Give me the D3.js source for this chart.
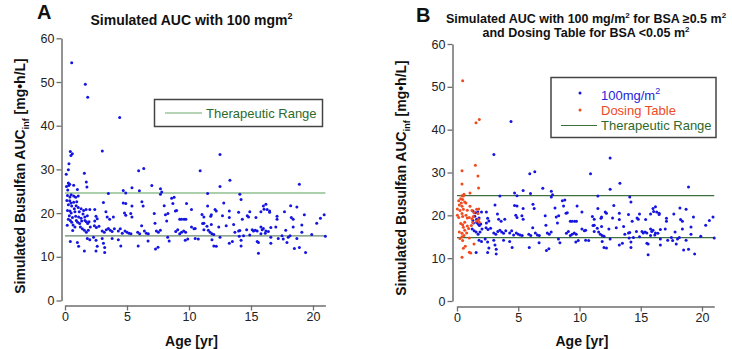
<!DOCTYPE html>
<html><head><meta charset="utf-8">
<script src="https://cdn.jsdelivr.net/npm/d3@7"></script>
<style>body{margin:0;background:#fff} svg{display:block;font-family:"Liberation Sans",Arial,Helvetica,sans-serif}</style>
</head><body><svg id="c" width="732" height="349"></svg>
<script>
// ---- data ----
const xTicks = [0, 5, 10, 15, 20];
const yTicks = [0, 10, 20, 30, 40, 50, 60];
const therapeuticRange = [14.8, 24.6];

// simulated AUC with 100 mg/m2 (age [yr], AUC [mg*h/L])
const ageA = [
 0.54,1.64,1.83,4.41,3.01,0.43,0.59,0.48,0.32,0.27,
 0.1,1.56,5.94,6.35,10.9,1.72,0.27,0.38,0.7,1.77,
 7.0,5.4,7.7,0.12,0.3,12.5,13.3,12.5,18.9,1.0,
 4.7,4.9,6.0,7.8,7.7,3.5,11.5,14.1,14.2,0.2,
 0.4,0.5,0.7,0.86,1.07,0.38,0.48,0.7,0.27,0.54,
 0.9,1.07,3.1,4.7,4.9,6.2,6.3,8.0,8.6,8.8,
 8.7,9.8,11.5,5.4,1.3,1.5,1.7,2.0,2.4,0.2,
 0.4,0.5,0.8,0.86,1.1,1.3,1.6,1.8,4.8,4.9,
 5.3,5.4,3.3,3.4,3.6,3.9,2.5,2.6,2.4,7.2,
 8.3,8.1,8.2,8.9,9.0,10.2,11.8,9.25,9.4,9.6,
 9.75,11.2,0.27,0.43,0.54,0.65,0.8,0.91,1.02,1.18,
 1.34,1.61,1.72,1.83,1.94,1.24,1.4,1.56,1.72,1.88,
 2.04,2.37,2.53,2.74,3.0,3.17,3.33,3.5,3.65,3.8,
 3.98,4.3,4.46,4.62,4.84,5.0,5.16,5.32,5.86,6.02,
 6.18,6.4,6.56,6.72,7.26,7.37,7.53,7.69,8.28,8.93,
 9.09,9.25,9.4,9.57,9.73,10.2,10.4,10.5,11.2,11.45,
 11.56,11.7,0.43,1.0,1.1,1.56,1.8,2.0,2.3,2.5,
 2.6,2.5,3.0,3.1,3.2,3.2,3.8,4.3,4.5,5.9,
 6.7,7.3,7.5,8.4,9.7,9.9,10.5,10.75,12.0,12.8,
 12.1,12.2,13.25,11.05,11.75,12.7,14.0,13.25,14.9,14.7,
 14.8,14.3,15.4,15.8,16.0,16.2,16.05,16.3,16.5,16.5,
 17.1,17.1,17.7,18.2,18.7,18.25,18.4,19.3,20.3,20.6,
 20.9,11.1,11.2,11.8,11.85,12.0,12.4,13.0,13.6,13.7,
 14.0,14.1,14.05,14.2,14.2,12.5,11.85,12.2,13.25,13.5,
 14.4,14.65,14.9,15.1,15.2,15.35,15.5,15.5,15.6,15.6,
 15.8,15.8,15.9,16.0,16.15,16.2,16.4,16.6,16.6,16.6,
 17.0,17.2,17.5,17.6,17.8,17.9,18.0,18.15,18.4,18.7,
 18.5,18.9,19.1,19.1,19.4,19.9,21.0,
 0.15,0.22,0.35,0.6,0.75,0.95,1.15,1.45,0.18,0.62
];
const aucA = [
 54.4,49.5,46.5,41.9,34.2,34.1,33.6,33.2,31.3,29.9,
 28.9,29.1,29.7,30.2,29.7,27.1,26.9,26.6,26.4,26.0,
 26.3,25.8,25.6,26.1,26.3,33.4,27.5,26.1,26.6,25.4,
 25.2,24.6,25.1,24.8,24.3,24.5,24.5,24.3,23.1,24.0,
 23.7,24.2,23.9,23.6,23.9,22.8,22.3,22.5,21.9,21.6,
 21.7,21.3,22.4,22.3,22.2,22.6,21.6,21.7,23.4,23.6,
 22.2,22.2,21.6,21.6,21.0,20.6,20.8,20.8,20.8,20.6,
 20.5,20.0,20.3,19.3,19.1,18.8,19.1,19.4,20.0,19.5,
 19.9,19.1,20.3,19.1,18.6,19.1,19.3,18.7,18.2,19.9,
 19.9,19.6,18.2,20.5,20.6,20.8,19.6,18.6,18.6,18.6,
 18.6,19.1,18.6,18.3,17.9,17.3,16.8,18.3,17.9,17.6,
 18.2,18.3,18.0,17.6,18.0,16.8,16.4,16.1,15.6,16.1,
 16.8,17.1,16.7,17.0,15.9,15.6,16.2,16.5,16.1,15.8,
 16.4,15.9,16.4,15.4,15.9,15.6,15.4,15.3,15.6,15.3,
 17.1,15.9,15.4,15.3,17.7,15.9,15.6,16.1,14.5,15.8,
 16.2,15.3,15.6,15.9,15.6,16.8,16.4,16.5,17.7,17.0,
 16.1,15.6,13.5,13.3,12.4,11.3,14.2,13.9,14.5,13.8,
 12.4,11.3,14.2,13.1,12.1,11.0,14.2,13.9,12.5,12.5,
 13.6,11.8,12.2,13.6,13.8,14.1,14.2,14.1,12.5,22.3,
 20.8,20.5,20.5,19.7,19.3,19.4,20.2,19.0,20.3,19.4,
 19.1,18.6,19.0,20.3,21.6,22.0,20.9,20.8,20.5,20.2,
 19.3,18.6,20.3,21.7,21.4,19.0,18.6,19.6,17.7,18.8,
 19.6,17.6,16.2,17.4,15.3,15.1,16.8,17.1,17.4,15.6,
 15.9,16.0,14.7,13.8,12.5,14.5,13.9,12.4,13.1,13.5,
 14.8,16.2,15.0,16.2,15.9,16.1,15.9,13.5,13.3,10.8,
 16.8,15.3,16.2,16.5,15.4,15.9,15.8,16.7,14.5,13.1,
 16.8,14.2,14.8,14.1,16.1,13.3,14.5,14.8,16.8,14.2,
 11.9,12.1,17.3,15.6,11.0,15.1,14.7,
 22.9,25.3,19.4,19.0,21.0,22.6,20.3,19.8,17.2,16.0
];

// panel B keeps the 100 mg/m2 patients with BSA >= 0.5 m2:
// all patients from this age on, and younger ones (from minAge) below maxAuc
const bsaFullAge = 1.9;
const bsaMinAge = 1.2;
const bsaYoungMaxAuc = 25;

// panel B: dosing-table patients (BSA < 0.5 m2)
const ageDosing = [
 0.46,1.55,1.82,1.5,0.41,1.71,0.41,1.76,1.06,0.41,
 0.52,0.57,0.3,0.46,0.63,0.14,0.35,0.73,0.19,0.41,
 0.03,0.24,0.52,0.84,1.06,1.22,1.39,1.6,1.77,1.71,
 0.03,0.14,0.41,0.46,0.73,0.84,1.0,1.22,1.33,1.6,
 0.3,0.46,0.63,0.52,0.84,0.95,1.17,1.28,1.82,1.77,
 0.19,0.41,0.63,0.79,0.41,0.57,1.0,0.24,0.46,
 0.52,0.68,1.39,1.0,1.12,0.41
];
const aucDosing = [
 51.4,41.6,42.4,31.7,30.4,29.2,27.3,26.4,25.2,24.6,
 24.5,24.9,23.9,23.7,23.1,23.4,22.9,22.9,22.4,22.1,
 21.5,21.1,21.4,21.2,22.1,21.1,20.6,21.4,21.5,20.4,
 20.0,19.5,20.4,19.7,20.0,19.4,19.5,19.2,19.7,18.7,
 18.1,17.8,18.4,17.2,17.5,16.9,17.6,18.3,18.4,19.0,
 16.1,15.8,16.5,15.9,15.0,15.3,14.7,14.6,14.1,
 12.3,12.8,13.3,11.4,11.2,10.2
];

// ---- drawing ----
const BLUE = "#1515e0", RED = "#f04a1e";
const svg = d3.select("#c");

function drawAxes(g, x, y, yAxisX, xAxisY) {
  const ya = g.append("g").attr("transform", `translate(${yAxisX},0)`)
    .call(d3.axisLeft(y).tickValues(yTicks).tickSize(5).tickSizeOuter(0).tickPadding(2));
  const xa = g.append("g").attr("transform", `translate(0,${xAxisY})`)
    .call(d3.axisBottom(x).tickValues(xTicks).tickSize(5).tickSizeOuter(0).tickPadding(2));
  [ya, xa].forEach(a => {
    a.select(".domain").attr("stroke", "#6e6e6e").attr("stroke-width", 1.5);
    a.selectAll(".tick line").attr("stroke", "#6e6e6e").attr("stroke-width", 1.3);
    a.selectAll(".tick text").attr("fill", "#222").attr("font-size", 12.5)
      .attr("font-family", '"Liberation Sans",Arial,sans-serif');
  });
}

function yLabel(g, cx, cy) {
  const t = g.append("text").attr("transform", `translate(${cx},${cy}) rotate(-90)`)
    .attr("text-anchor", "middle").attr("font-weight", "bold").attr("font-size", 14).attr("fill", "#111");
  t.append("tspan").text("Simulated Busulfan AUC");
  t.append("tspan").attr("font-size", 9).attr("dy", 4).text("inf");
  t.append("tspan").attr("dy", -4).text(" [mg\u2022h/L]");
}

function xLabel(g, cx, cy) {
  g.append("text").attr("x", cx).attr("y", cy).attr("text-anchor", "middle")
    .attr("font-weight", "bold").attr("font-size", 14).attr("fill", "#111").text("Age [yr]");
}

// ---------- Panel A ----------
{
  const g = svg.append("g");
  const x = d3.scaleLinear([0, 21], [65, 325.4]);
  const y = d3.scaleLinear([0, 60], [300.5, 38.3]);
  drawAxes(g, x, y, 61.5, 305.5);

  g.append("line").attr("x1", x(0)).attr("x2", x(21)).attr("y1", y(therapeuticRange[1])).attr("y2", y(therapeuticRange[1]))
    .attr("stroke", "#8fbf8f").attr("stroke-width", 1.3);
  g.append("line").attr("x1", x(0)).attr("x2", x(21)).attr("y1", y(therapeuticRange[0])).attr("y2", y(therapeuticRange[0]))
    .attr("stroke", "#6a8a6a").attr("stroke-width", 1.3);

  g.append("g").selectAll("circle").data(d3.range(ageA.length)).join("circle")
    .attr("cx", i => x(ageA[i])).attr("cy", i => y(aucA[i])).attr("r", 1.5).attr("fill", BLUE);

  // legend
  g.append("rect").attr("x", 154.5).attr("y", 99.5).attr("width", 168).attr("height", 27)
    .attr("fill", "#fff").attr("stroke", "#444").attr("stroke-width", 1.5);
  g.append("line").attr("x1", 165).attr("x2", 202).attr("y1", 113).attr("y2", 113)
    .attr("stroke", "#9cc49c").attr("stroke-width", 1.5);
  g.append("text").attr("x", 206).attr("y", 117.5).attr("font-size", 13).attr("fill", "#2d6a2d").text("Therapeutic Range");

  // titles
  g.append("text").attr("x", 37).attr("y", 19).attr("font-size", 20).attr("font-weight", "bold").attr("fill", "#111").text("A");
  const t = g.append("text").attr("x", 191.5).attr("y", 25).attr("text-anchor", "middle")
    .attr("font-size", 14).attr("font-weight", "bold").attr("fill", "#111");
  t.append("tspan").text("Simulated AUC with 100 mgm");
  t.append("tspan").attr("font-size", 9).attr("dy", -6).text("2");
  yLabel(g, 25, 176);
  xLabel(g, x(10.2), 346);
}

// ---------- Panel B ----------
{
  const g = svg.append("g");
  const x = d3.scaleLinear([0, 21], [457, 714.25]);
  const y = d3.scaleLinear([0, 60], [301, 44]);
  drawAxes(g, x, y, 452.5, 306.5);

  therapeuticRange.forEach(v => {
    g.append("line").attr("x1", x(0)).attr("x2", x(21)).attr("y1", y(v)).attr("y2", y(v))
      .attr("stroke", "#3f6f3f").attr("stroke-width", 1.2);
  });

  const blueIdx = d3.range(ageA.length).filter(i =>
    ageA[i] >= bsaFullAge || (ageA[i] >= bsaMinAge && aucA[i] < bsaYoungMaxAuc));
  g.append("g").selectAll("circle").data(blueIdx).join("circle")
    .attr("cx", i => x(ageA[i])).attr("cy", i => y(aucA[i])).attr("r", 1.5).attr("fill", BLUE);
  g.append("g").selectAll("circle").data(d3.range(ageDosing.length)).join("circle")
    .attr("cx", i => x(ageDosing[i])).attr("cy", i => y(aucDosing[i])).attr("r", 1.5).attr("fill", RED);

  // legend
  g.append("rect").attr("x", 551).attr("y", 77.5).attr("width", 165).attr("height", 60)
    .attr("fill", "#fff").attr("stroke", "#444").attr("stroke-width", 1.5);
  g.append("circle").attr("cx", 580).attr("cy", 93).attr("r", 1.5).attr("fill", BLUE);
  const l1 = g.append("text").attr("x", 601).attr("y", 99.5).attr("font-size", 13).attr("fill", "#2323d8");
  l1.append("tspan").text("100mg/m");
  l1.append("tspan").attr("font-size", 9).attr("dy", -6).text("2");
  g.append("circle").attr("cx", 580).attr("cy", 110).attr("r", 1.5).attr("fill", RED);
  g.append("text").attr("x", 601).attr("y", 115).attr("font-size", 13).attr("fill", "#ee4a25").text("Dosing Table");
  g.append("line").attr("x1", 561).attr("x2", 597).attr("y1", 125.5).attr("y2", 125.5)
    .attr("stroke", "#3f6f3f").attr("stroke-width", 1.2);
  g.append("text").attr("x", 601).attr("y", 130).attr("font-size", 13).attr("fill", "#2d6a2d").text("Therapeutic Range");

  // titles
  g.append("text").attr("x", 416).attr("y", 22).attr("font-size", 20).attr("font-weight", "bold").attr("fill", "#111").text("B");
  const t1 = g.append("text").attr("x", 586).attr("y", 23).attr("text-anchor", "middle")
    .attr("font-size", 12.5).attr("font-weight", "bold").attr("fill", "#111");
  t1.append("tspan").text("Simulated AUC with 100 mg/m");
  t1.append("tspan").attr("font-size", 8).attr("dy", -5).text("2");
  t1.append("tspan").attr("dy", 5).text(" for BSA \u22650.5 m");
  t1.append("tspan").attr("font-size", 8).attr("dy", -5).text("2");
  const t2 = g.append("text").attr("x", 586).attr("y", 37).attr("text-anchor", "middle")
    .attr("font-size", 12.5).attr("font-weight", "bold").attr("fill", "#111");
  t2.append("tspan").text("and Dosing Table for BSA <0.05 m");
  t2.append("tspan").attr("font-size", 8).attr("dy", -5).text("2");
  yLabel(g, 406, 178);
  xLabel(g, x(10.2), 346);
}
</script></body></html>
